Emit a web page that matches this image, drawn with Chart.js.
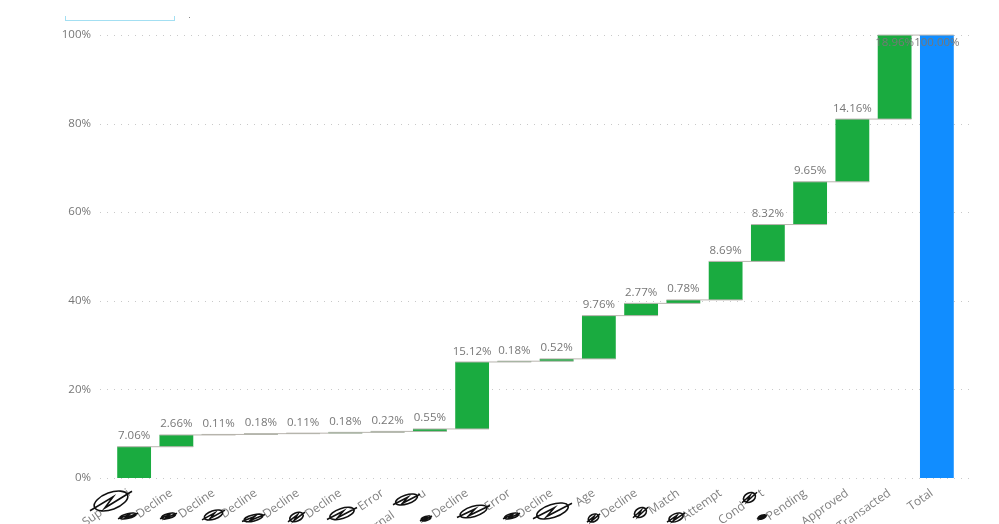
<!DOCTYPE html>
<html>
<head>
<meta charset="utf-8">
<title>Waterfall</title>
<script src="https://cdn.jsdelivr.net/npm/chart.js@4"></script>
<style>
  body { margin: 0; background: #fff; overflow: hidden; }
  #wrap { position: relative; width: 999px; height: 524px; }
  /* leftover slicer edge at the top of the screenshot */
  #slicer { position: absolute; left: 65px; top: 16px; width: 108px; height: 4px;
            border: 1px solid #a3dff2; border-top: 0; }
  #dot { position: absolute; left: 189px; top: 17px; width: 1px; height: 1px; background: #888; }
</style>
</head>
<body>
<div id="wrap">
  <canvas id="chart" width="999" height="524"></canvas>
  <div id="slicer"></div>
  <div id="dot"></div>
</div>
<script>
// names are partly scribbled out in the source, only the readable words are kept
const categories = ["Sup          i", "Decline", "Decline", "Decline", "Decline", "Decline", "Error",
    "rnal          u", "Decline", "Error", "Decline", "Age", "Decline", "Match", "Attempt",
    "Cond      t", "Pending", "Approved", "Transacted", "Total"];
const steps = [7.06, 2.66, 0.11, 0.18, 0.11, 0.18, 0.22, 0.55, 15.12, 0.18, 0.52, 9.76,
    2.77, 0.78, 8.69, 8.32, 9.65, 14.16, 18.96];
const totalValue = 100;
const yTicks = [0, 20, 40, 60, 80, 100];

const green = "#1AAB40";
const blue = "#118DFF";
const fontName = "'Open Sans', sans-serif";

// running level for the floating bars
const ranges = [];
const levels = [];
let level = 0;
steps.forEach((s) => {
    ranges.push([level, level + s]);
    level += s;
    levels.push(level);
});
ranges.push([0, totalValue]);

const labelTexts = steps.concat([totalValue]).map((v) => v.toFixed(2) + "%");

// dotted horizontal lines, a bit wider than the plot area like in Power BI
const dottedGrid = {
    id: "dottedGrid",
    beforeDatasetsDraw(chart) {
        const ctx = chart.ctx;
        const area = chart.chartArea;
        ctx.save();
        ctx.strokeStyle = "#c9c9c9";
        ctx.lineWidth = 1;
        ctx.setLineDash([1, 6]);
        yTicks.forEach((t) => {
            const y = Math.round(chart.scales.y.getPixelForValue(t)) + 0.5;
            ctx.beginPath();
            ctx.moveTo(area.left - 13, y);
            ctx.lineTo(area.right + 13, y);
            ctx.stroke();
        });
        ctx.restore();
    },
};

// connector lines between the bars and the value labels
const waterfallExtras = {
    id: "waterfallExtras",
    afterDatasetsDraw(chart) {
        const ctx = chart.ctx;
        const bars = chart.getDatasetMeta(0).data;
        const yScale = chart.scales.y;
        ctx.save();
        ctx.strokeStyle = "#b8b4ae";
        ctx.lineWidth = 1;
        levels.forEach((lv, i) => {
            const y = yScale.getPixelForValue(lv);
            ctx.beginPath();
            ctx.moveTo(bars[i].x - bars[i].width / 2, y);
            ctx.lineTo(bars[i + 1].x + bars[i + 1].width / 2, y);
            ctx.stroke();
        });
        ctx.fillStyle = "#777";
        ctx.font = "11.5px " + fontName;
        ctx.textAlign = "center";
        ctx.textBaseline = "bottom";
        bars.forEach((bar, i) => {
            const top = yScale.getPixelForValue(ranges[i][1]);
            const y = Math.max(top - 5, chart.chartArea.top + 13);
            ctx.fillText(labelTexts[i], bar.x, y);
        });
        ctx.restore();
    },
};

// the pen scribbles over the hidden names: x, y, width, height
const scribbles = [[90, 487, 42, 28], [118, 512, 20, 8], [160, 512, 17, 8], [202, 508, 23, 14],
    [242, 513, 23, 10], [288, 510, 17, 14], [327, 505, 30, 17], [393, 492, 27, 15],
    [420, 515, 12, 7], [457, 503, 33, 17], [503, 512, 17, 8], [533, 500, 39, 22],
    [587, 512, 13, 12], [633, 505, 15, 15], [667, 511, 18, 13], [742, 490, 15, 15],
    [757, 514, 10, 6]];
const scribbleMarks = {
    id: "scribbleMarks",
    afterDraw(chart) {
        const ctx = chart.ctx;
        ctx.save();
        ctx.strokeStyle = "#111";
        ctx.lineWidth = 1.6;
        scribbles.forEach(([x, y, w, h]) => {
            // a tilted loop with a couple of strokes through it
            ctx.beginPath();
            ctx.ellipse(x + w / 2, y + h / 2, w * 0.42, h * 0.3, -Math.atan2(h, w) * 0.6, 0, Math.PI * 2);
            ctx.moveTo(x, y + h * 0.85);
            ctx.lineTo(x + w * 0.55, y + h * 0.35);
            ctx.lineTo(x + w * 0.35, y + h * 0.75);
            ctx.lineTo(x + w, y + h * 0.15);
            ctx.stroke();
        });
        ctx.restore();
    },
};

new Chart(document.getElementById("chart"), {
    type: "bar",
    data: {
        labels: categories,
        datasets: [{
            data: ranges,
            backgroundColor: categories.map((c, i) => (i === categories.length - 1 ? blue : green)),
            borderWidth: 0,
            borderSkipped: false,
            barPercentage: 0.8,
            categoryPercentage: 1,
        }],
    },
    options: {
        responsive: false,
        animation: false,
        devicePixelRatio: 1,
        layout: { padding: { top: 35, right: 41, left: 0, bottom: 0 } },
        plugins: { legend: { display: false }, tooltip: { enabled: false } },
        scales: {
            x: {
                grid: { display: false },
                border: { display: false },
                afterFit: (scale) => { scale.height = 46; },
                ticks: {
                    autoSkip: false,
                    minRotation: 35,
                    maxRotation: 35,
                    padding: 0,
                    labelOffset: -5,
                    color: "#808080",
                    font: { family: fontName, size: 12 },
                },
            },
            y: {
                min: 0,
                max: 100,
                afterFit: (scale) => { scale.width = 113; },
                afterBuildTicks: (scale) => { scale.ticks = yTicks.map((v) => ({ value: v })); },
                grid: { display: false },
                border: { display: false },
                ticks: {
                    padding: 14,
                    color: "#777",
                    font: { family: fontName, size: 11.5 },
                    callback: (v) => v + "%",
                },
            },
        },
    },
    plugins: [dottedGrid, waterfallExtras, scribbleMarks],
});
</script>
</body>
</html>
